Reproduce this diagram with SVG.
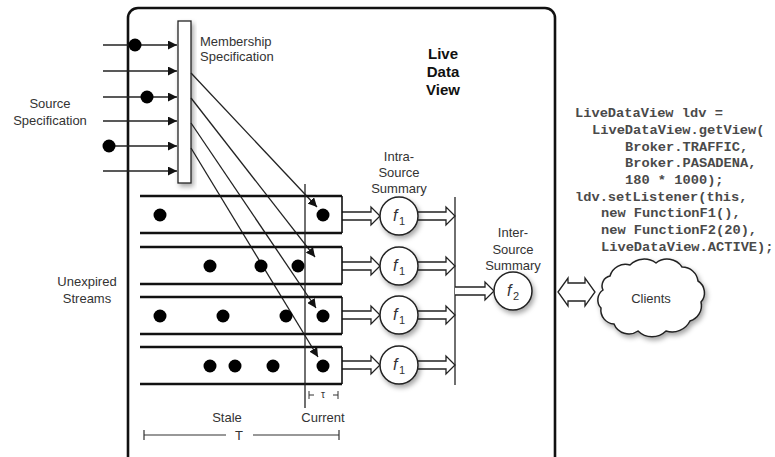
<svg xmlns="http://www.w3.org/2000/svg" width="775" height="457" viewBox="0 0 775 457">
<defs>
<marker id="ah" viewBox="0 0 10 10" refX="10" refY="5" markerWidth="9" markerHeight="9" markerUnits="userSpaceOnUse" orient="auto"><path d="M0,0 L10,5 L0,10 Z" fill="#111"/></marker>
<filter id="sh" x="-30%" y="-30%" width="170%" height="170%"><feDropShadow dx="2" dy="3" stdDeviation="2.5" flood-color="#000" flood-opacity="0.35"/></filter>
</defs>
<style>
.t{font-family:"Liberation Sans",Arial,sans-serif;font-size:13px;fill:#333}
.c{font-family:"Liberation Mono","Courier New",monospace;font-size:13.7px;fill:#4a4a4a;font-weight:bold}
.ln{stroke:#222;stroke-width:1.3;fill:none}
.th{stroke:#111;stroke-width:2.6;fill:none}
.dot{fill:#000}
.ha{fill:#fff;stroke:#222;stroke-width:1.3}
.fc{fill:#fff;stroke:#222;stroke-width:1.5}
.fx{font-family:"Liberation Sans",Arial,sans-serif;font-style:italic;font-size:16px;fill:#333}
.fs{font-family:"Liberation Sans",Arial,sans-serif;font-size:11px;fill:#333}
</style>
<rect width="775" height="457" fill="#fff"/>

<g id="live-data-view">
<rect x="128" y="8" width="427" height="466" rx="10" fill="none" stroke="#111" stroke-width="2.6"/>
<text class="t" x="443" y="59" text-anchor="middle" style="font-weight:bold;font-size:15px;fill:#111">Live</text>
<text class="t" x="443" y="77" text-anchor="middle" style="font-weight:bold;font-size:15px;fill:#111">Data</text>
<text class="t" x="443" y="95" text-anchor="middle" style="font-weight:bold;font-size:15px;fill:#111">View</text>
</g>

<g id="source-spec">
<text class="t" x="50" y="108" text-anchor="middle">Source</text>
<text class="t" x="50" y="125" text-anchor="middle">Specification</text>
</g>

<g id="membership-spec">
<rect x="178" y="21" width="13" height="162" fill="#fff" stroke="#222" stroke-width="1.3" filter="url(#sh)"/>
<text class="t" x="200" y="46">Membership</text>
<text class="t" x="200" y="61">Specification</text>
</g>

<g id="connectors">
<line class="ln" x1="103" y1="45" x2="177" y2="45" marker-end="url(#ah)"/>
<line class="ln" x1="103" y1="71" x2="177" y2="71" marker-end="url(#ah)"/>
<line class="ln" x1="103" y1="97" x2="177" y2="97" marker-end="url(#ah)"/>
<line class="ln" x1="103" y1="121" x2="177" y2="121" marker-end="url(#ah)"/>
<line class="ln" x1="103" y1="146" x2="177" y2="146" marker-end="url(#ah)"/>
<line class="ln" x1="103" y1="171" x2="177" y2="171" marker-end="url(#ah)"/>
<circle class="dot" cx="135" cy="45" r="6.5"/>
<circle class="dot" cx="147" cy="97" r="6.5"/>
<circle class="dot" cx="109" cy="146" r="6.5"/>

<line class="ln" x1="191" y1="73" x2="317" y2="207" marker-end="url(#ah)"/>
<line class="ln" x1="191" y1="98" x2="315" y2="257" marker-end="url(#ah)"/>
<line class="ln" x1="191" y1="123" x2="316" y2="308" marker-end="url(#ah)"/>
<line class="ln" x1="191" y1="148" x2="318" y2="357" marker-end="url(#ah)"/>

<path class="ha" d="M342,212 H371 V207 L380,216 L371,225 V220 H342"/>
<path class="ha" d="M342,262 H371 V257 L380,266 L371,275 V270 H342"/>
<path class="ha" d="M342,311 H371 V306 L380,315 L371,324 V319 H342"/>
<path class="ha" d="M342,361 H371 V356 L380,365 L371,374 V369 H342"/>

<path class="ha" d="M418,212 H446 V207 L455,216 L446,225 V220 H418"/>
<path class="ha" d="M418,262 H446 V257 L455,266 L446,275 V270 H418"/>
<path class="ha" d="M418,311 H446 V306 L455,315 L446,324 V319 H418"/>
<path class="ha" d="M418,361 H446 V356 L455,365 L446,374 V369 H418"/>
<line class="ln" x1="455" y1="197" x2="455" y2="385"/>
<path class="ha" d="M455,287 H485 V282 L494,291 L485,300 V295 H455"/>

<path class="ha" d="M558,292 L568,278 V283 H585 V278 L595,292 L585,306 V301 H568 V306 Z"/>
</g>

<g id="streams">
<text class="t" x="87" y="286" text-anchor="middle">Unexpired</text>
<text class="t" x="87" y="303" text-anchor="middle">Streams</text>
<path class="th" d="M140,196 H342 M140,233 H342 M140,247 H342 M140,284 H342 M140,297 H342 M140,334 H342 M140,347 H342 M140,384 H342"/>
<path d="M342,196 V233 M342,247 V284 M342,297 V334 M342,347 V384" stroke="#111" stroke-width="1.6" fill="none"/>
<line class="ln" x1="305" y1="184" x2="305" y2="408"/>
<circle class="dot" cx="160" cy="215" r="6.5"/>
<circle class="dot" cx="323" cy="215" r="6.5"/>
<circle class="dot" cx="210" cy="266" r="6.5"/>
<circle class="dot" cx="261" cy="266" r="6.5"/>
<circle class="dot" cx="298" cy="266" r="6.5"/>
<circle class="dot" cx="160" cy="316" r="6.5"/>
<circle class="dot" cx="223" cy="316" r="6.5"/>
<circle class="dot" cx="286" cy="316" r="6.5"/>
<circle class="dot" cx="323" cy="316" r="6.5"/>
<circle class="dot" cx="210" cy="366" r="6.5"/>
<circle class="dot" cx="235" cy="366" r="6.5"/>
<circle class="dot" cx="273" cy="366" r="6.5"/>
<circle class="dot" cx="323" cy="366" r="6.5"/>
</g>

<g id="windows">
<path d="M309,391 V399 M309,395 H314 M333,395 H338 M338,391 V399" stroke="#333" stroke-width="1" fill="none"/>
<text class="t" x="323" y="398" text-anchor="middle" style="font-size:10px">τ</text>
<text class="t" x="227" y="422" text-anchor="middle">Stale</text>
<text class="t" x="323" y="422" text-anchor="middle">Current</text>
<path d="M144,430 V440 M144,435 H226 M253,435 H339 M339,430 V440" stroke="#333" stroke-width="1.2" fill="none"/>
<text class="t" x="239" y="440" text-anchor="middle">T</text>
</g>

<g id="intra-summary">
<text class="t" x="399" y="161" text-anchor="middle">Intra-</text>
<text class="t" x="399" y="177" text-anchor="middle">Source</text>
<text class="t" x="399" y="193" text-anchor="middle">Summary</text>
</g>
<g id="f1-1"><circle class="fc" cx="399" cy="216" r="19" filter="url(#sh)"/><text class="fx" x="393" y="221">f</text><text class="fs" x="399" y="225">1</text></g>
<g id="f1-2"><circle class="fc" cx="399" cy="266" r="19" filter="url(#sh)"/><text class="fx" x="393" y="271">f</text><text class="fs" x="399" y="275">1</text></g>
<g id="f1-3"><circle class="fc" cx="399" cy="315" r="19" filter="url(#sh)"/><text class="fx" x="393" y="320">f</text><text class="fs" x="399" y="324">1</text></g>
<g id="f1-4"><circle class="fc" cx="399" cy="365" r="19" filter="url(#sh)"/><text class="fx" x="393" y="370">f</text><text class="fs" x="399" y="374">1</text></g>

<g id="inter-summary">
<text class="t" x="513" y="237" text-anchor="middle">Inter-</text>
<text class="t" x="513" y="254" text-anchor="middle">Source</text>
<text class="t" x="513" y="270" text-anchor="middle">Summary</text>
</g>
<g id="f2"><circle class="fc" cx="513" cy="291" r="19" filter="url(#sh)"/><text class="fx" x="507" y="296">f</text><text class="fs" x="513" y="300">2</text></g>

<g id="clients">
<path d="M610,276 A16,16 0 0 1 630,265 A20,20 0 0 1 656,263 A18,18 0 0 1 682,267 A16,16 0 0 1 698,281 A14,14 0 0 1 701,302 A16,16 0 0 1 690,321 A20,20 0 0 1 666,331 A20,20 0 0 1 638,331 A16,16 0 0 1 614,324 A14,14 0 0 1 601,308 A12,12 0 0 1 603,290 A10,10 0 0 1 610,276 Z" fill="#fff" stroke="#222" stroke-width="1.5" filter="url(#sh)"/>
<text class="t" x="651" y="303" text-anchor="middle" style="font-size:13px">Clients</text>
</g>

<g id="code">
<text class="c" x="575" y="117">LiveDataView ldv =</text>
<text class="c" x="592" y="134">LiveDataView.getView(</text>
<text class="c" x="625" y="151">Broker.TRAFFIC,</text>
<text class="c" x="625" y="167">Broker.PASADENA,</text>
<text class="c" x="625" y="184">180 * 1000);</text>
<text class="c" x="575" y="201">ldv.setListener(this,</text>
<text class="c" x="601" y="217">new FunctionF1(),</text>
<text class="c" x="601" y="234">new FunctionF2(20),</text>
<text class="c" x="601" y="251">LiveDataView.ACTIVE);</text>
</g>
</svg>
